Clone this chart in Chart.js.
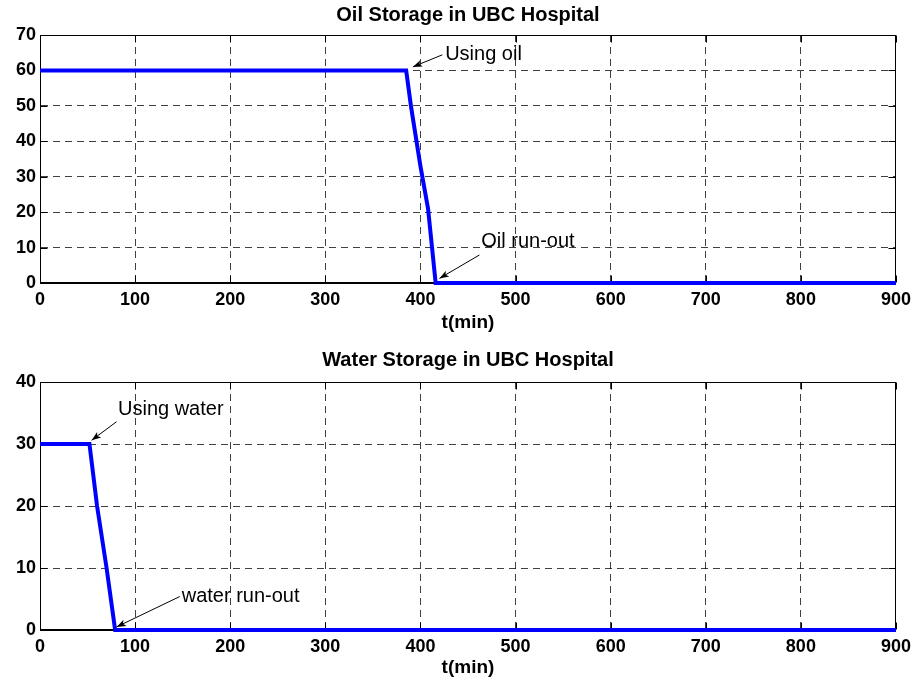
<!DOCTYPE html>
<html lang="en">
<head>
<meta charset="UTF-8">
<title>Oil and Water Storage in UBC Hospital</title>
<script src="https://cdn.jsdelivr.net/npm/chart.js"></script>
<style>
  body { margin: 0; background: #fff; }
  .panel { position: absolute; left: 0; width: 917px; }
  #oilBox { top: 0; height: 341px; }
  #waterBox { top: 341px; height: 342px; }
</style>
</head>
<body>
<div class="panel" id="oilBox"><canvas id="oilChart"></canvas></div>
<div class="panel" id="waterBox"><canvas id="waterChart"></canvas></div>
<script>
// readings taken off the two plots
const timeTicks = [0, 100, 200, 300, 400, 500, 600, 700, 800, 900];
const oilTicks = [0, 10, 20, 30, 40, 50, 60, 70];
const waterTicks = [0, 10, 20, 30, 40];

const oilTime = [0, 385, 390, 400, 408, 416, 900];
const oilLevel = [60, 60, 50, 33, 21, 0, 0];

const waterTime = [0, 52, 60, 70, 79, 900];
const waterLevel = [30, 30, 20, 10, 0, 0];

// text anchors (data units): label at, arrow from -> to
const oilNotes = [
  { text: 'Using oil', at: [426, 64.4], from: [423, 64.4], to: [392, 61] },
  { text: 'Oil run-out', at: [464, 11.6], from: [462, 7.9], to: [420, 1.3] }
];
const waterNotes = [
  { text: 'Using water', at: [82, 35.5], from: [80.5, 33.6], to: [54.3, 30.6] },
  { text: 'water run-out', at: [149, 5.4], from: [147, 5.4], to: [80.5, 0.5] }
];

Chart.defaults.font.family = "'Liberation Sans', Arial, sans-serif";
Chart.defaults.color = '#000';

// box round the plot and the small inward ticks, like matlab
const matlabFrame = {
  id: 'matlabFrame',
  beforeDatasetsDraw(chart) {
    const { ctx, chartArea: a, scales: { x, y } } = chart;
    const L = Math.round(a.left) + 0.5, R = Math.round(a.right) - 0.5;
    const T = Math.round(a.top) + 0.5, B = Math.round(a.bottom) - 0.5;
    ctx.save();
    ctx.strokeStyle = '#000';
    ctx.lineWidth = 1;
    ctx.beginPath();
    x.ticks.forEach(t => {
      const px = Math.round(x.getPixelForValue(t.value)) + 0.5;
      ctx.moveTo(px, B); ctx.lineTo(px, B - 7);
      ctx.moveTo(px, T); ctx.lineTo(px, T + 7);
    });
    y.ticks.forEach(t => {
      const py = Math.round(y.getPixelForValue(t.value)) + 0.5;
      ctx.moveTo(L, py); ctx.lineTo(L + 7, py);
      ctx.moveTo(R, py); ctx.lineTo(R - 7, py);
    });
    ctx.stroke();
    ctx.strokeRect(L, T, R - L, B - T);
    ctx.restore();
  }
};

function notesPlugin(notes) {
  return {
    id: 'notes',
    afterDatasetsDraw(chart) {
      const { ctx, scales: { x, y } } = chart;
      ctx.save();
      ctx.fillStyle = '#000';
      ctx.strokeStyle = '#000';
      ctx.lineWidth = 1;
      ctx.font = "20px 'Liberation Sans', Arial, sans-serif";
      ctx.textBaseline = 'middle';
      notes.forEach(n => {
        ctx.fillText(n.text, x.getPixelForValue(n.at[0]), y.getPixelForValue(n.at[1]));
        const x0 = x.getPixelForValue(n.from[0]), y0 = y.getPixelForValue(n.from[1]);
        const x1 = x.getPixelForValue(n.to[0]), y1 = y.getPixelForValue(n.to[1]);
        const ang = Math.atan2(y1 - y0, x1 - x0);
        ctx.beginPath();
        ctx.moveTo(x0, y0);
        ctx.lineTo(x1, y1);
        ctx.stroke();
        ctx.beginPath();
        ctx.moveTo(x1, y1);
        ctx.lineTo(x1 - 10 * Math.cos(ang - 0.35), y1 - 10 * Math.sin(ang - 0.35));
        ctx.lineTo(x1 - 7 * Math.cos(ang), y1 - 7 * Math.sin(ang));
        ctx.lineTo(x1 - 10 * Math.cos(ang + 0.35), y1 - 10 * Math.sin(ang + 0.35));
        ctx.closePath();
        ctx.fill();
      });
      ctx.restore();
    }
  };
}

function storageChart(id, title, times, levels, yTicks, notes, pad) {
  const gridLines = { color: 'rgba(0,0,0,0.75)', lineWidth: 1, drawTicks: false };
  const dashed = { display: true, color: '#000', width: 1, dash: [7, 5] };
  return new Chart(document.getElementById(id), {
    type: 'line',
    data: {
      datasets: [{
        data: times.map((t, i) => ({ x: t, y: levels[i] })),
        borderColor: '#0000ff',
        borderWidth: 4,
        borderJoinStyle: 'miter',
        pointRadius: 0,
        tension: 0,
        clip: false
      }]
    },
    options: {
      responsive: true,
      maintainAspectRatio: false,
      animation: false,
      layout: { padding: { left: 0, right: 20, top: 0, bottom: 0 } },
      plugins: {
        legend: { display: false },
        tooltip: { enabled: false },
        title: {
          display: true,
          fullSize: false, // centre over the plot, not the canvas
          text: title,
          color: '#000',
          font: { size: 20, weight: 'bold' },
          padding: pad.title
        }
      },
      scales: {
        x: {
          type: 'linear',
          min: 0,
          max: 900,
          afterBuildTicks: s => { s.ticks = timeTicks.map(v => ({ value: v })); },
          afterFit: s => { s.height = pad.xHeight; },
          grid: gridLines,
          border: dashed,
          ticks: { font: { size: 18, weight: 'bold' }, padding: 6, maxRotation: 0 },
          title: {
            display: true,
            text: 't(min)',
            font: { size: 19, weight: 'bold' },
            padding: { top: 0, bottom: pad.xTitle }
          }
        },
        y: {
          min: 0,
          max: yTicks[yTicks.length - 1],
          afterBuildTicks: s => { s.ticks = yTicks.map(v => ({ value: v })); },
          afterFit: s => { s.width = 40; },
          grid: gridLines,
          border: dashed,
          ticks: { font: { size: 18, weight: 'bold' }, padding: 4 }
        }
      }
    },
    plugins: [matlabFrame, notesPlugin(notes)]
  });
}

storageChart('oilChart', 'Oil Storage in UBC Hospital', oilTime, oilLevel, oilTicks, oilNotes,
  { title: { top: 3, bottom: 8 }, xHeight: 58, xTitle: 7 });
storageChart('waterChart', 'Water Storage in UBC Hospital', waterTime, waterLevel, waterTicks, waterNotes,
  { title: { top: 7, bottom: 10 }, xHeight: 53, xTitle: 4 });
</script>
</body>
</html>
